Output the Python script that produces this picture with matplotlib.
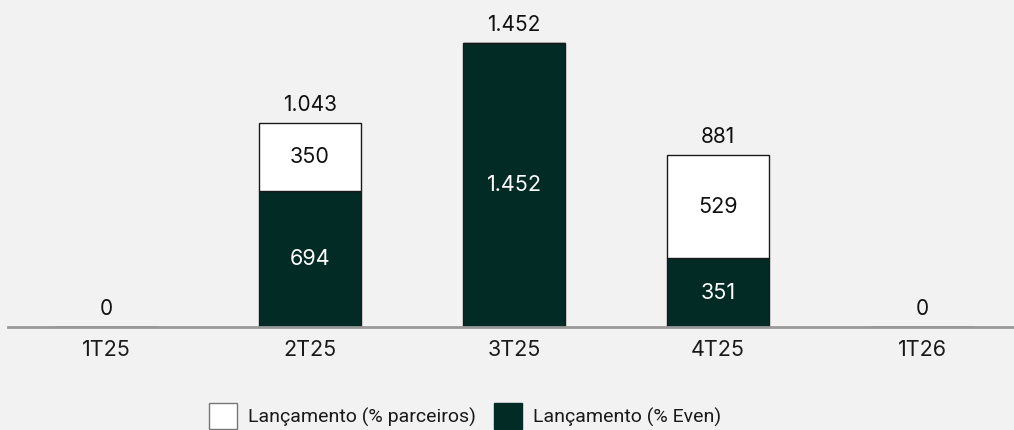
import matplotlib
matplotlib.use("Agg")
import matplotlib.pyplot as plt
from matplotlib.patches import Patch

categories = ["1T25", "2T25", "3T25", "4T25", "1T26"]
even_vals = [0, 694, 1452, 351, 0]
parceiros_vals = [0, 350, 0, 529, 0]
totals = [0, 1043, 1452, 881, 0]
total_labels = ["0", "1.043", "1.452", "881", "0"]
even_labels = ["", "694", "1.452", "351", ""]
parceiros_labels = ["", "350", "", "529", ""]
legend_labels = ["Lançamento (% parceiros)", "Lançamento (% Even)"]

dark = "#032b26"
bg = "#f2f2f2"
plt.rcParams['font.family'] = ['Inter', 'DejaVu Sans']

fig = plt.figure(figsize=(10.14, 4.30), dpi=100, facecolor=bg)
ax = fig.add_axes([8/1014, 1 - 327/430, 1 - 8/1014, 327/430])
ax.set_facecolor(bg)

x = list(range(len(categories)))
w = 0.5
ax.bar(x, even_vals, width=w, color=dark, edgecolor="#1a1a1a", linewidth=1, zorder=2)
ax.bar(x, parceiros_vals, width=w, bottom=even_vals, color="white",
       edgecolor="#1a1a1a", linewidth=1, zorder=2)

for i in x:
    if even_labels[i]:
        ax.text(i, even_vals[i] / 2, even_labels[i], ha="center", va="center",
                color="white", fontsize=15.5)
    if parceiros_labels[i]:
        ax.text(i, even_vals[i] + parceiros_vals[i] / 2, parceiros_labels[i],
                ha="center", va="center", color="#111111", fontsize=15.5)
    ax.text(i, totals[i] + 40, total_labels[i], ha="center", va="bottom",
            color="#111111", fontsize=15)

ax.set_xlim(-0.48, 4.45)
ax.set_ylim(0, 327 / 0.1956)
for s in ["top", "right", "left"]:
    ax.spines[s].set_visible(False)
ax.spines["bottom"].set_color("#999999")
ax.spines["bottom"].set_linewidth(2)
ax.set_yticks([])
ax.set_xticks(x)
ax.set_xticklabels(categories, fontsize=15.5, color="#1a1a1a")
ax.tick_params(axis="x", length=0, pad=9)

handles = [Patch(facecolor="white", edgecolor="#777777", label=legend_labels[0]),
           Patch(facecolor=dark, edgecolor=dark, label=legend_labels[1])]
fig.legend(handles=handles, loc="center left", bbox_to_anchor=(209/1014, 1 - 416/430),
           ncol=2, frameon=False, prop={"family": ["Roboto", "DejaVu Sans"], "size": 14},
           handlelength=1.44, handleheight=1.75, columnspacing=0.93, handletextpad=0.57,
           borderpad=0, borderaxespad=0, labelcolor="#1a1a1a")

fig.savefig("out.png", dpi=100, facecolor=bg)
